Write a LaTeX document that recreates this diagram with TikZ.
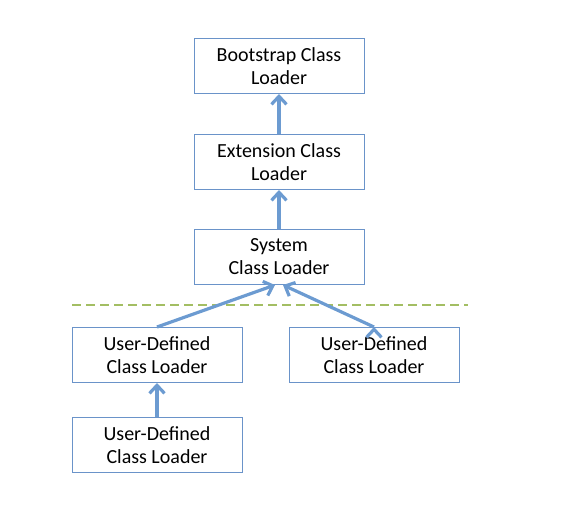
\documentclass[tikz,border=0pt]{standalone}
\usepackage{fontspec}
\setmainfont{Carlito}
\usetikzlibrary{arrows.meta}
\begin{document}
\begin{tikzpicture}[x=1pt,y=-1pt,
                    main node/.style={rectangle,draw=boxblue,line width=1pt,minimum width=170pt,minimum height=55pt,
                                      align=center,inner sep=2pt,font=\fontsize{20}{23}\selectfont},
                    up edge/.style={draw=arrowblue,line width=3.2pt,-{Straight Barb[length=8pt,width=15pt]}}]
        \definecolor{boxblue}{HTML}{6A93C9}
        \definecolor{arrowblue}{HTML}{6C9BD1}
        \definecolor{sepgreen}{HTML}{A3BE63}
        \useasboundingbox (0,0) rectangle (567,507);

        % Define vertices
        \node[main node] (B) at (279,66) {Bootstrap Class\\Loader};
        \node[main node] (E) at (279,162) {Extension Class\\Loader};
        \node[main node] (S) at (279,257) {System\\Class Loader};
        \node[main node] (U1) at (157,355) {User-Defined\\Class Loader};
        \node[main node] (U2) at (374,355) {User-Defined\\Class Loader};
        \node[main node] (U3) at (157,445) {User-Defined\\Class Loader};

        % Separator
        \coordinate (L) at (72,305);
        \coordinate (R) at (468,305);
        \draw[sepgreen,line width=2pt,dash pattern=on 9pt off 5pt] (L) -- (R);

        % Draw edges
        \path[up edge]
            (E) edge (B)
            (S) edge (E)
            (U3) edge (U1)
            (U1.north) edge ([xshift=-4pt]S.south)
            (U2.north) edge ([xshift=4pt]S.south);

        \end{tikzpicture}
\end{document}
